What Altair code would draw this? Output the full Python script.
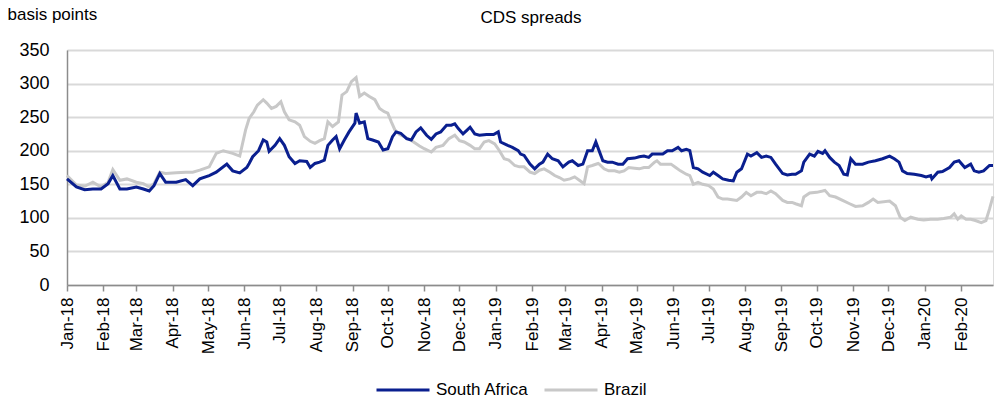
import altair as alt
import pandas as pd

# South Africa 5y CDS spread, basis points
sa_dates = [
    "2018-01-01", "2018-01-09", "2018-01-16", "2018-01-23", "2018-01-30", "2018-02-05", "2018-02-09",
    "2018-02-15", "2018-02-21", "2018-03-01", "2018-03-07", "2018-03-12", "2018-03-16", "2018-03-21",
    "2018-03-26", "2018-04-04", "2018-04-12", "2018-04-18", "2018-04-24", "2018-05-02", "2018-05-08",
    "2018-05-17", "2018-05-22", "2018-05-28", "2018-06-03", "2018-06-05", "2018-06-08", "2018-06-13",
    "2018-06-17", "2018-06-20", "2018-06-22", "2018-06-27", "2018-07-01", "2018-07-05", "2018-07-09",
    "2018-07-14", "2018-07-18", "2018-07-24", "2018-07-27", "2018-07-31", "2018-08-04", "2018-08-08",
    "2018-08-11", "2018-08-15", "2018-08-18", "2018-08-21", "2018-08-25", "2018-08-29", "2018-09-03",
    "2018-09-04", "2018-09-07", "2018-09-11", "2018-09-14", "2018-09-18", "2018-09-23", "2018-09-27",
    "2018-10-01", "2018-10-05", "2018-10-08", "2018-10-12", "2018-10-17", "2018-10-21", "2018-10-25",
    "2018-10-29", "2018-11-03", "2018-11-07", "2018-11-11", "2018-11-15", "2018-11-20", "2018-11-24",
    "2018-11-27", "2018-11-30", "2018-12-04", "2018-12-07", "2018-12-10", "2018-12-14", "2018-12-18",
    "2018-12-24", "2018-12-30", "2019-01-03", "2019-01-05", "2019-01-11", "2019-01-15", "2019-01-20",
    "2019-01-22", "2019-01-25", "2019-01-30", "2019-02-03", "2019-02-07", "2019-02-10", "2019-02-14",
    "2019-02-18", "2019-02-23", "2019-02-27", "2019-03-04", "2019-03-07", "2019-03-12", "2019-03-16",
    "2019-03-20", "2019-03-24", "2019-03-27", "2019-03-30", "2019-04-02", "2019-04-06", "2019-04-10",
    "2019-04-15", "2019-04-19", "2019-04-23", "2019-04-29", "2019-05-03", "2019-05-07", "2019-05-11",
    "2019-05-14", "2019-05-18", "2019-05-23", "2019-05-27", "2019-05-31", "2019-06-05", "2019-06-08",
    "2019-06-12", "2019-06-15", "2019-06-18", "2019-06-22", "2019-06-26", "2019-07-02", "2019-07-05",
    "2019-07-09", "2019-07-13", "2019-07-18", "2019-07-22", "2019-07-25", "2019-07-29", "2019-08-03",
    "2019-08-06", "2019-08-11", "2019-08-15", "2019-08-19", "2019-08-23", "2019-08-27", "2019-09-02",
    "2019-09-06", "2019-09-10", "2019-09-13", "2019-09-18", "2019-09-20", "2019-09-25", "2019-09-29",
    "2019-10-02", "2019-10-06", "2019-10-08", "2019-10-12", "2019-10-16", "2019-10-20", "2019-10-24",
    "2019-10-27", "2019-10-30", "2019-11-03", "2019-11-09", "2019-11-14", "2019-11-20", "2019-11-26",
    "2019-12-02", "2019-12-06", "2019-12-10", "2019-12-13", "2019-12-17", "2019-12-23", "2019-12-29",
    "2020-01-02", "2020-01-06", "2020-01-07", "2020-01-12", "2020-01-16", "2020-01-22", "2020-01-26",
    "2020-01-30", "2020-02-04", "2020-02-09", "2020-02-12", "2020-02-16", "2020-02-20", "2020-02-25",
    "2020-02-28",
]
sa_values = [
    158, 146, 142, 143, 143, 151, 163,
    143, 143, 146, 143, 140, 148, 166,
    153, 153, 157, 148, 158, 163, 168,
    180, 170, 167, 175, 181, 191, 200,
    216, 213, 199, 208, 218, 208, 191,
    181, 185, 184, 175, 181, 183, 186,
    208, 216, 221, 203, 216, 228, 241,
    256, 241, 243, 218, 216, 213, 201,
    203, 221, 228, 226, 218, 216, 228,
    234, 223, 217, 225, 228, 238, 238,
    240, 233, 225, 230, 235, 225, 223,
    224, 224, 228, 213, 208, 205, 200,
    195, 193, 180, 173, 180, 183, 195,
    188, 185, 176, 183, 185, 178, 180,
    200, 200, 213, 199, 185, 183, 183,
    180, 180, 188, 189, 191, 192, 190,
    195, 195, 195, 200, 200, 205, 200,
    202, 200, 175, 173, 168, 163, 168,
    163, 158, 156, 155, 168, 173, 195,
    192, 197, 190, 192, 190, 180, 166,
    164, 165, 165, 170, 183, 195, 192,
    199, 196, 200, 190, 183, 178, 165,
    164, 188, 180, 180, 183, 185, 188,
    192, 188, 183, 170, 166, 165, 163,
    161, 163, 158, 168, 169, 175, 183,
    185, 175, 180, 170, 168, 170, 178,
    178,
]

# Brazil 5y CDS spread, basis points
br_dates = [
    "2018-01-01", "2018-01-09", "2018-01-16", "2018-01-23", "2018-01-30", "2018-02-05", "2018-02-09",
    "2018-02-15", "2018-02-21", "2018-03-01", "2018-03-07", "2018-03-12", "2018-03-16", "2018-03-21",
    "2018-03-26", "2018-04-04", "2018-04-12", "2018-04-18", "2018-04-24", "2018-05-02", "2018-05-08",
    "2018-05-14", "2018-05-22", "2018-05-28", "2018-06-02", "2018-06-05", "2018-06-09", "2018-06-12",
    "2018-06-17", "2018-06-20", "2018-06-24", "2018-06-28", "2018-07-02", "2018-07-05", "2018-07-09",
    "2018-07-14", "2018-07-18", "2018-07-22", "2018-07-27", "2018-07-31", "2018-08-04", "2018-08-08",
    "2018-08-11", "2018-08-15", "2018-08-20", "2018-08-23", "2018-08-27", "2018-08-31", "2018-09-04",
    "2018-09-07", "2018-09-11", "2018-09-15", "2018-09-20", "2018-09-24", "2018-09-28", "2018-10-01",
    "2018-10-04", "2018-10-07", "2018-10-11", "2018-10-17", "2018-10-22", "2018-10-28", "2018-11-01",
    "2018-11-07", "2018-11-11", "2018-11-17", "2018-11-22", "2018-11-27", "2018-12-01", "2018-12-05",
    "2018-12-10", "2018-12-14", "2018-12-18", "2018-12-22", "2018-12-26", "2018-12-31", "2019-01-04",
    "2019-01-08", "2019-01-12", "2019-01-17", "2019-01-21", "2019-01-25", "2019-01-30", "2019-02-03",
    "2019-02-07", "2019-02-11", "2019-02-16", "2019-02-20", "2019-02-24", "2019-02-28", "2019-03-05",
    "2019-03-09", "2019-03-13", "2019-03-17", "2019-03-20", "2019-03-24", "2019-03-29", "2019-03-30",
    "2019-04-03", "2019-04-07", "2019-04-12", "2019-04-16", "2019-04-20", "2019-04-24", "2019-04-29",
    "2019-05-03", "2019-05-07", "2019-05-11", "2019-05-16", "2019-05-18", "2019-05-21", "2019-05-26",
    "2019-05-30", "2019-06-03", "2019-06-07", "2019-06-12", "2019-06-15", "2019-06-18", "2019-06-22",
    "2019-06-26", "2019-07-01", "2019-07-05", "2019-07-09", "2019-07-13", "2019-07-17", "2019-07-21",
    "2019-07-25", "2019-07-29", "2019-08-02", "2019-08-06", "2019-08-11", "2019-08-15", "2019-08-19",
    "2019-08-23", "2019-08-27", "2019-09-02", "2019-09-06", "2019-09-10", "2019-09-13", "2019-09-18",
    "2019-09-20", "2019-09-25", "2019-10-01", "2019-10-06", "2019-10-08", "2019-10-12", "2019-10-17",
    "2019-10-23", "2019-10-29", "2019-11-03", "2019-11-09", "2019-11-14", "2019-11-18", "2019-11-22",
    "2019-12-02", "2019-12-07", "2019-12-11", "2019-12-15", "2019-12-20", "2019-12-26", "2019-12-31",
    "2020-01-06", "2020-01-12", "2020-01-17", "2020-01-23", "2020-01-26", "2020-01-29", "2020-02-01",
    "2020-02-05", "2020-02-09", "2020-02-13", "2020-02-18", "2020-02-22", "2020-02-25", "2020-02-28",
]
br_values = [
    163, 149, 147, 153, 146, 153, 172,
    156, 158, 153, 151, 146, 151, 168,
    166, 167, 168, 168, 171, 176, 196,
    200, 196, 192, 231, 248, 258, 268,
    276, 271, 263, 266, 273, 258, 246,
    243, 238, 221, 214, 211, 215, 218,
    243, 236, 243, 283, 288, 303, 309,
    281, 286, 281, 276, 263, 258, 256,
    243, 231, 224, 219, 214, 207, 203,
    198, 205, 208, 218, 223, 215, 213,
    208, 203, 203, 213, 215, 210, 200,
    188, 186, 178, 176, 176, 168, 166,
    171, 173, 168, 163, 160, 156, 158,
    161, 156, 151, 176, 178, 181, 180,
    173, 170, 170, 168, 170, 175, 174,
    173, 175, 175, 183, 185, 180, 180,
    180, 175, 170, 165, 163, 150, 153,
    150, 148, 143, 131, 128, 128, 127,
    126, 131, 138, 133, 138, 138, 136,
    140, 136, 126, 123, 123, 121, 118,
    131, 137, 138, 140, 141, 133, 131,
    126, 121, 117, 118, 123, 128, 123,
    125, 118, 101, 96, 101, 98, 97,
    98, 98, 99, 101, 106, 98, 103,
    98, 98, 96, 93, 96, 113, 132,
]

title_text = ["CDS spreads"]
series_order = ["South Africa", "Brazil"]
series_colors = ["#0a1f8f", "#c8c8c8"]
y_ticks = [0, 50, 100, 150, 200, 250, 300, 350]
month_ticks = [(2018, m) for m in range(1, 13)] + [(2019, m) for m in range(1, 13)] + [(2020, 1), (2020, 2)]

sa_df = pd.DataFrame({"date": sa_dates, "value": sa_values, "series": "South Africa"})
br_df = pd.DataFrame({"date": br_dates, "value": br_values, "series": "Brazil"})
title_df = pd.DataFrame({"text": title_text})

FONT = "Liberation Sans"

x_enc = alt.X(
    "date:T",
    scale=alt.Scale(
        type="utc",
        domain=[alt.DateTime(year=2018, month=1, date=1, utc=True),
                alt.DateTime(year=2020, month=2, date=28, utc=True)],
    ),
    axis=alt.Axis(
        values=[alt.DateTime(year=y, month=m, date=1, utc=True) for y, m in month_ticks],
        labelExpr="utcFormat(datum.value, '%b-%y')",
        labelAngle=-90,
        labelAlign="right",
        labelBaseline="middle",
        labelFontSize=17,
        labelPadding=6,
        labelColor="#000000",
        labelFont=FONT,
        labelOverlap=False,
        tickSize=6,
        tickColor="#8c8c8c",
        tickWidth=1.5,
        domainColor="#8c8c8c",
        domainWidth=1.5,
        grid=False,
        title=None,
    ),
)

y_enc = alt.Y(
    "value:Q",
    scale=alt.Scale(domain=[0, 350], nice=False, zero=True),
    axis=alt.Axis(
        values=y_ticks,
        labelFontSize=18,
        labelPadding=18,
        labelColor="#000000",
        labelFont=FONT,
        ticks=False,
        domainColor="#8c8c8c",
        domainWidth=1.5,
        grid=True,
        gridColor="#d9d9d9",
        gridWidth=2,
        title="basis points",
        titleAngle=0,
        titleAlign="left",
        titleBaseline="alphabetic",
        titleX=-60,
        titleY=-31,
        titleFontSize=17,
        titleFontWeight="normal",
        titleFont=FONT,
        titleColor="#000000",
    ),
)

color_enc = alt.Color(
    "series:N",
    scale=alt.Scale(domain=series_order, range=series_colors),
    legend=alt.Legend(
        title=None,
        orient="none",
        direction="horizontal",
        legendX=308,
        legendY=312,
        symbolType="stroke",
        symbolSize=2809,
        symbolStrokeWidth=3,
        labelFontSize=17,
        labelFont=FONT,
        labelColor="#000000",
        labelOffset=5,
        columnPadding=9,
        padding=0,
    ),
)

brazil = alt.Chart(br_df).mark_line(strokeWidth=3).encode(x=x_enc, y=y_enc, color=color_enc)
south_africa = alt.Chart(sa_df).mark_line(strokeWidth=3).encode(x=x_enc, y=y_enc, color=color_enc)

# chart heading, centred over the plot area
heading = alt.Chart(title_df).mark_text(
    font=FONT, fontSize=17, color="#000000", align="center", baseline="alphabetic"
).encode(x=alt.value(464), y=alt.value(-27), text="text:N")

chart = alt.layer(brazil, south_africa, heading).properties(
    width=926,
    height=235,
    autosize="none",
    padding={"left": 67, "top": 50, "right": 3, "bottom": 116},
).configure_view(stroke=None).configure(background="#ffffff")

chart.save("out.html", embed_options={"renderer": "svg", "actions": False})
